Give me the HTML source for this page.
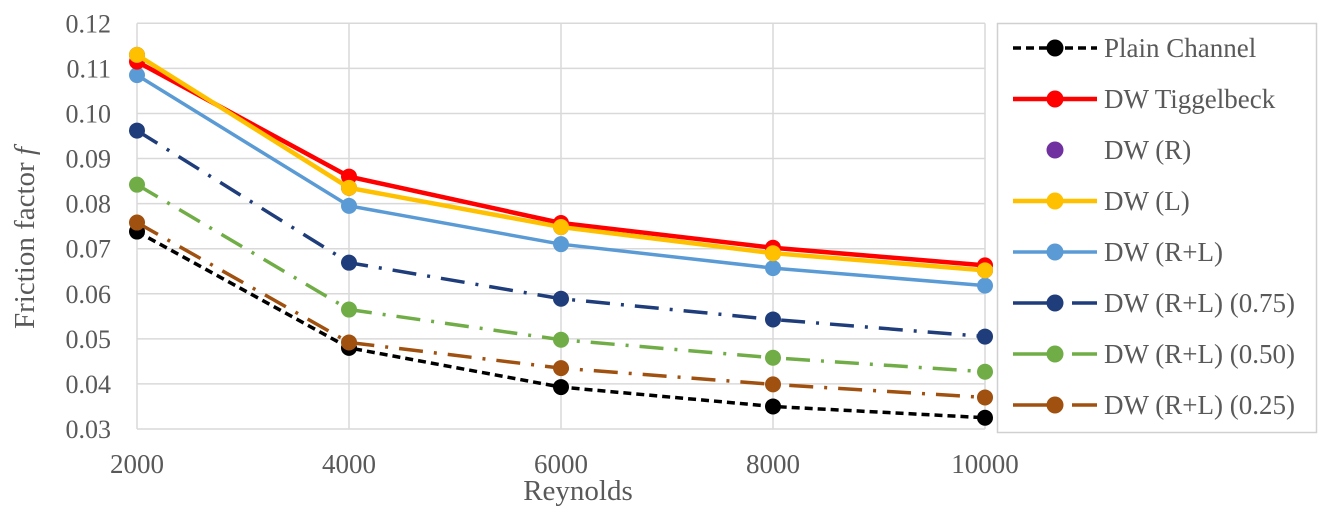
<!DOCTYPE html>
<html><head><meta charset="utf-8"><style>
html,body{margin:0;padding:0;background:#fff;}
svg text{font-family:"Liberation Serif",serif;fill:#595959;}
</style></head><body>
<svg id="chart" width="1339" height="512" xmlns="http://www.w3.org/2000/svg">
<g id="grid"></g>
<g id="series"></g>
<g id="axes"></g>
<text transform="translate(34,238) rotate(-90)" text-anchor="middle" font-size="29">Friction factor <tspan font-style="italic">f</tspan></text>
<text x="578" y="500" text-anchor="middle" font-size="29">Reynolds</text>
<rect x="997.5" y="23.5" width="319" height="409" fill="#fff" stroke="#d0d0d0" stroke-width="1.5"/>
<g id="legend"></g>
</svg>
<script>
const categories=[2000,4000,6000,8000,10000];
const yTicks=[0.03,0.04,0.05,0.06,0.07,0.08,0.09,0.10,0.11,0.12];
const seriesNames=["Plain Channel","DW Tiggelbeck","DW (R)","DW (L)","DW (R+L)","DW (R+L) (0.75)","DW (R+L) (0.50)","DW (R+L) (0.25)"];
const plainChannel=[0.0738,0.0480,0.0393,0.0350,0.0325];
const dwTiggelbeck=[0.1115,0.0860,0.0757,0.0702,0.0663];
const dwR=[0.1130,0.0835,0.0748,0.0690,0.0652];
const dwL=[0.1130,0.0835,0.0748,0.0690,0.0652];
const dwRL=[0.1085,0.0795,0.0710,0.0657,0.0618];
const dwRL075=[0.0962,0.0669,0.0589,0.0543,0.0505];
const dwRL050=[0.0842,0.0565,0.0498,0.0458,0.0427];
const dwRL025=[0.0758,0.0492,0.0435,0.0399,0.0370];

const NS="http://www.w3.org/2000/svg";
const X0=137,X1=985,Y0=429,Y1=23.3,YMIN=0.03,YMAX=0.12;
function xs(v){return X0+(v-2000)/(10000-2000)*(X1-X0);}
function ys(v){return Y0-(v-YMIN)/(YMAX-YMIN)*(Y0-Y1);}
function mk(tag,attrs,parent){const e=document.createElementNS(NS,tag);for(const k in attrs)e.setAttribute(k,attrs[k]);parent.appendChild(e);return e;}
const grid=document.getElementById('grid'),axes=document.getElementById('axes'),ser=document.getElementById('series'),leg=document.getElementById('legend');
yTicks.forEach(t=>{
 const l=mk('line',{x1:X0,x2:X1,y1:ys(t),y2:ys(t),stroke:'#d9d9d9','stroke-width':1.5},grid);
 
 
 const tx=mk('text',{x:111,y:ys(t)+9,'text-anchor':'end','font-size':26},axes);
 tx.textContent=t.toFixed(2);
 
 
});
categories.forEach(c=>{
 const l=mk('line',{x1:xs(c),x2:xs(c),y1:Y1,y2:Y0,stroke:'#d9d9d9','stroke-width':1.5},grid);
 
 
 const tx=mk('text',{x:xs(c),y:473,'text-anchor':'middle','font-size':27},axes);
 tx.textContent=c;
 
 
});
const specs=[
 {d:plainChannel,c:'#000000',dash:'8,5',w:3.5,line:true},
 {d:dwTiggelbeck,c:'#ff0000',dash:'',w:4.5,line:true},
 {d:dwR,c:'#7030a0',dash:'',w:0,line:false},
 {d:dwL,c:'#ffc000',dash:'',w:4.5,line:true},
 {d:dwRL,c:'#5b9bd5',dash:'',w:3.5,line:true},
 {d:dwRL075,c:'#1f3d7a',dash:'24,11,3,11',w:3.5,line:true},
 {d:dwRL050,c:'#70ad47',dash:'24,11,3,11',w:3.5,line:true},
 {d:dwRL025,c:'#a0500f',dash:'24,11,3,11',w:3.5,line:true}
];
const order=[2,4,1,3,5,6,0,7];
order.forEach(i=>{
 const s=specs[i];
 const g=mk('g',{},ser);
 
 
 if(s.line){
  const pts=s.d.map((v,j)=>xs(categories[j])+','+ys(v)).join(' ');
  const pl=mk('polyline',{points:pts,fill:'none',stroke:s.c,'stroke-width':s.w,'stroke-dasharray':s.dash},g);
  
  
 }
 s.d.forEach((v,j)=>{
  const c=mk('circle',{cx:xs(categories[j]),cy:ys(v),r:8,fill:s.c},g);
  
  
 });
});
seriesNames.forEach((n,i)=>{
 const s=specs[i],y=48+i*51;
 const g=mk('g',{},leg);
 
 
 if(s.line){
  if(i>=5){mk('line',{x1:1013,x2:1048,y1:y,y2:y,stroke:s.c,'stroke-width':s.w},g);mk('line',{x1:1072,x2:1097,y1:y,y2:y,stroke:s.c,'stroke-width':s.w},g);}
  else mk('line',{x1:1013,x2:1097,y1:y,y2:y,stroke:s.c,'stroke-width':s.w,'stroke-dasharray':s.dash},g);
 }
 mk('circle',{cx:1055,cy:y,r:8.5,fill:s.c},g);
 const t=mk('text',{x:1104,y:y+9,'font-size':27},g);
 t.textContent=n;
});
</script>
</body></html>
